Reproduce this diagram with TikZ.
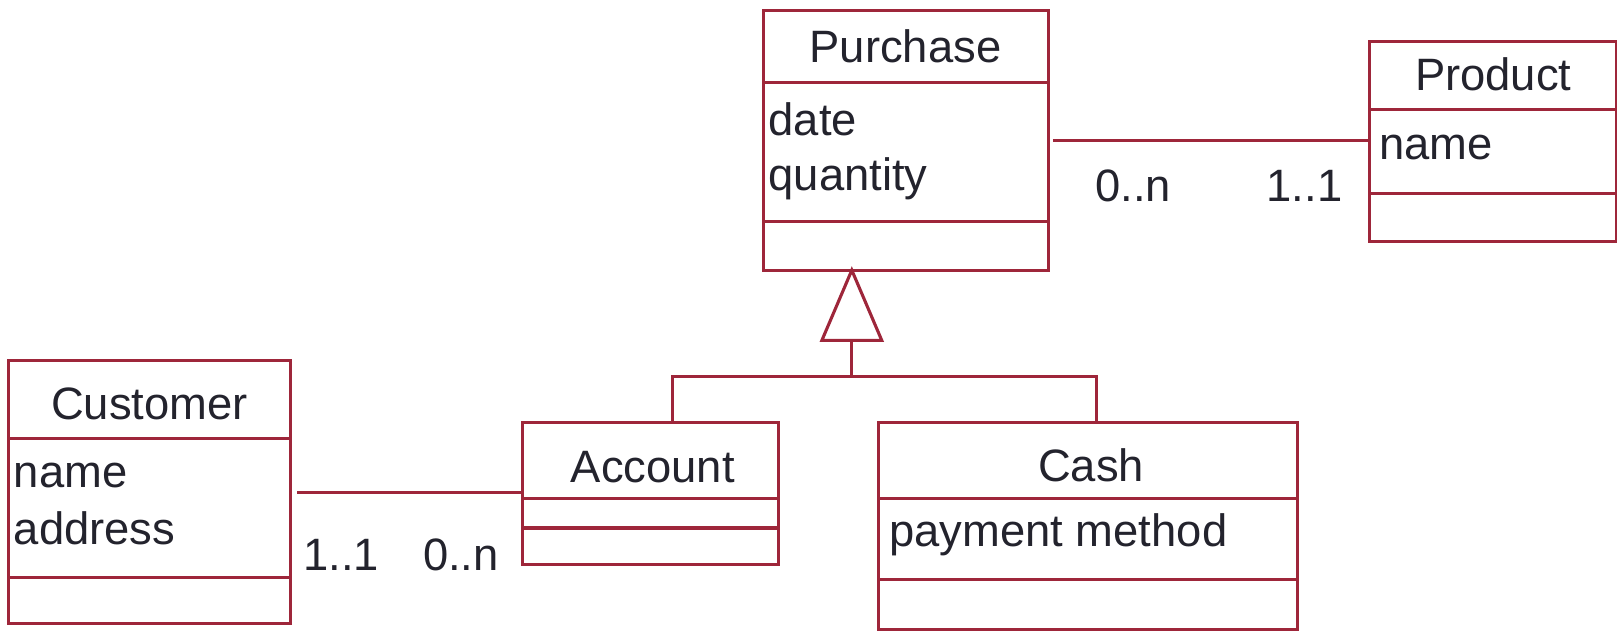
\documentclass[tikz,border=0pt]{standalone}
\usepackage{fontspec}
\setmainfont{Liberation Sans}
\definecolor{umlred}{RGB}{158,38,58}
\definecolor{umltext}{RGB}{35,35,45}
\tikzset{
  classbox/.style={draw=umlred, line width=1.5pt, inner sep=0pt, outer sep=0pt},
  sep/.style={draw=umlred, line width=1.5pt},
  link/.style={draw=umlred, line width=1.5pt},
  txt/.style={text=umltext, inner sep=0pt, font=\fontsize{22}{26}\selectfont}
}
\begin{document}
\begin{tikzpicture}[x=0.5pt, y=-0.5pt]
  \useasboundingbox (0,0) rectangle (1568,613);

  % Klassen
  \node [classbox, minimum width=138.5pt, minimum height=126pt] (purchase) at (878.5,136) {};
  \node [classbox, minimum width=120pt, minimum height=97pt] (product) at (1448,137) {};
  \node [classbox, minimum width=137pt, minimum height=127.5pt] (customer) at (145,477.5) {};
  \node [classbox, minimum width=124pt, minimum height=68.5pt] (account) at (631,478.5) {};
  \node [classbox, minimum width=203pt, minimum height=100pt] (cash) at (1055,510) {};

  % Trennlinien
  \draw [sep] (purchase.west |- 0,80) -- (purchase.east |- 0,80);
  \draw [sep] (purchase.west |- 0,215) -- (purchase.east |- 0,215);
  \draw [sep] (product.west |- 0,106) -- (product.east |- 0,106);
  \draw [sep] (product.west |- 0,188) -- (product.east |- 0,188);
  \draw [sep] (customer.west |- 0,425) -- (customer.east |- 0,425);
  \draw [sep] (customer.west |- 0,560) -- (customer.east |- 0,560);
  \draw [sep] (account.west |- 0,483) -- (account.east |- 0,483);
  \draw [sep] (account.west |- 0,512) -- (account.east |- 0,512);
  \draw [sep] (cash.west |- 0,483) -- (cash.east |- 0,483);
  \draw [sep] (cash.west |- 0,562) -- (cash.east |- 0,562);

  % Texte
  \node [txt, anchor=base] (purchaseName) at (878,61) {Purchase};
  \node [txt, anchor=base west] (purchaseDate) at (745,131) {date};
  \node [txt, anchor=base west] (purchaseQty) at (745,185) {quantity};
  \node [txt, anchor=base] (productName) at (1448,88) {Product};
  \node [txt, anchor=base west] (productAttr) at (1337,155) {name};
  \node [txt, anchor=base] (customerName) at (145,407) {Customer};
  \node [txt, anchor=base west] (customerAttr) at (13,473) {name};
  \node [txt, anchor=base west] (customerAddr) at (13,528) {address};
  \node [txt, anchor=base] (accountName) at (633,468) {Account};
  \node [txt, anchor=base] (cashName) at (1058,467) {Cash};
  \node [txt, anchor=base west] (cashAttr) at (862,530) {payment method};

  % Assoziationen
  \draw [link] ([xshift=2pt]purchase.east) -- (purchase.east -| product.west);
  \node [txt, anchor=base] (multPa) at (1099,195) {0..n};
  \node [txt, anchor=base] (multPb) at (1265,195) {1..1};
  \draw [link] ([xshift=3pt]customer.east) -- (customer.east -| account.west);
  \node [txt, anchor=base] (multCa) at (331,553) {1..1};
  \node [txt, anchor=base] (multCb) at (447,553) {0..n};

  % Generalisierung
  \coordinate (apex) at (purchase.south -| 826,0);
  \coordinate (baseL) at (797,330);
  \coordinate (baseR) at (855,330);
  \coordinate (baseM) at (826,330);
  \coordinate (fork) at (826,365);
  \draw [link, line join=miter] (apex) -- (baseR) -- (baseL) -- cycle;
  \draw [link] (baseM) -- (fork);
  \draw [link] (account.north -| 652,0) |- (fork) -| (cash.north -| 1063,0);
\end{tikzpicture}
\end{document}
